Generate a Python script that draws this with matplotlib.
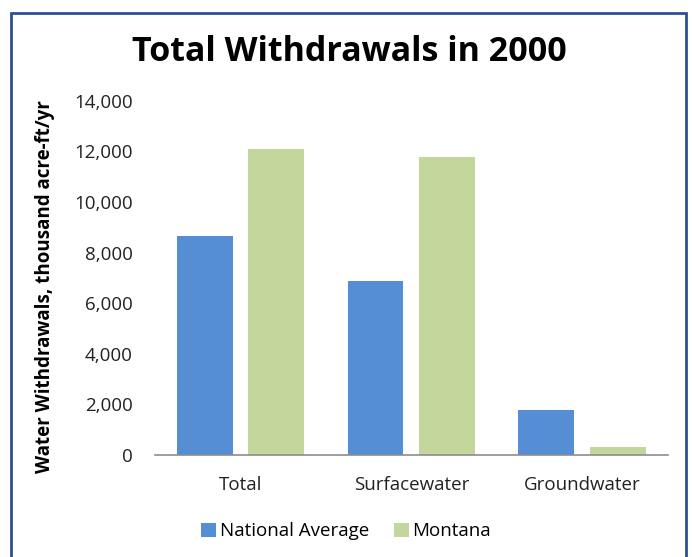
import matplotlib
matplotlib.use("Agg")

import numpy as np
import matplotlib.pyplot as plt
from matplotlib.patches import Rectangle
from matplotlib.ticker import FuncFormatter

categories = ["Total", "Surfacewater", "Groundwater"]
national = [8650, 6880, 1780]
montana = [12100, 11780, 320]
series_names = ["National Average", "Montana"]

plt.rcParams["font.family"] = ["Open Sans", "DejaVu Sans"]

fig = plt.figure(figsize=(6.92, 5.57), dpi=100)
ax = fig.add_axes([0.224, 0.183, 0.741, 0.636])

x = np.arange(len(categories))
w = 0.327
off = 0.21
ax.bar(x - off, national, w, color="#558ED5", label=series_names[0])
ax.bar(x + off, montana, w, color="#C3D69B", label=series_names[1])

ax.set_xlim(-0.5, 2.5)
ax.set_ylim(0, 14000)
ax.set_yticks(range(0, 14001, 2000))
ax.yaxis.set_major_formatter(FuncFormatter(lambda v, p: f"{int(v):,}"))
ax.set_xticks(x)
ax.set_xticklabels(categories)
ax.tick_params(axis="both", length=0, labelsize=13.5, colors="#222222")
ax.tick_params(axis="x", pad=15)
ax.tick_params(axis="y", pad=16)

for s in ["top", "right", "left"]:
    ax.spines[s].set_visible(False)
ax.spines["bottom"].set_color("#8C8C8C")
ax.spines["bottom"].set_linewidth(1.2)

ax.set_ylabel("Water Withdrawals, thousand acre-ft/yr", fontsize=13.5,
              fontweight="bold")
ax.yaxis.set_label_coords(-0.195, 0.475)

fig.text(0.505, 0.907, "Total Withdrawals in 2000", ha="center", va="center",
         fontsize=24.5, fontweight="bold")

fig.legend(loc="center", bbox_to_anchor=(0.5, 0.046), ncol=2, frameon=False,
           fontsize=13.5, handlelength=0.8, handleheight=0.8,
           handletextpad=0.2, columnspacing=1.3)

# outer frame
fig.patches.append(Rectangle((11 / 692, -0.05), 675 / 692, 1 - 13 / 557 + 0.05,
                             transform=fig.transFigure, fill=False,
                             edgecolor="#2E4F8F", linewidth=2))

fig.savefig("out.png", dpi=100)
